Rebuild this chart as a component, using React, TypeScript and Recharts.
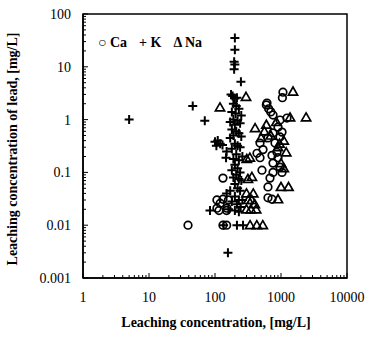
import { ScatterChart, Scatter, XAxis, YAxis, ReferenceArea, Legend } from "recharts";

const xMajorTicks = [1, 10, 100, 1000, 10000];
const xTickLabels = ["1", "10", "100", "1000", "10000"];
const yMajorTicks = [0.001, 0.01, 0.1, 1, 10, 100];
const yTickLabels = ["0.001", "0.01", "0.1", "1", "10", "100"];
const minorSteps = [2, 3, 4, 5, 6, 7, 8, 9];

const caPoints = [
  { x: 39, y: 0.01 }, { x: 132, y: 0.01 }, { x: 150, y: 0.01 },
  { x: 115, y: 0.019 }, { x: 150, y: 0.019 }, { x: 107, y: 0.021 },
  { x: 152, y: 0.021 }, { x: 120, y: 0.026 }, { x: 107, y: 0.03 },
  { x: 132, y: 0.031 }, { x: 160, y: 0.03 }, { x: 132, y: 0.078 },
  { x: 635, y: 0.033 }, { x: 730, y: 0.031 }, { x: 635, y: 0.053 },
  { x: 681, y: 0.078 }, { x: 757, y: 0.1 }, { x: 1036, y: 0.1 },
  { x: 515, y: 0.11 }, { x: 966, y: 0.126 }, { x: 757, y: 0.15 },
  { x: 481, y: 0.19 }, { x: 901, y: 0.19 }, { x: 731, y: 0.21 },
  { x: 433, y: 0.23 }, { x: 869, y: 0.24 }, { x: 534, y: 0.27 },
  { x: 481, y: 0.36 }, { x: 811, y: 0.36 }, { x: 635, y: 0.45 },
  { x: 966, y: 0.47 }, { x: 757, y: 0.56 }, { x: 1036, y: 0.58 },
  { x: 901, y: 0.72 }, { x: 966, y: 0.98 }, { x: 1233, y: 1.07 },
  { x: 757, y: 1.22 }, { x: 700, y: 1.4 }, { x: 650, y: 1.6 },
  { x: 600, y: 1.9 }, { x: 613, y: 2.06 }, { x: 1050, y: 2.6 },
  { x: 1070, y: 3.3 },
];

const kPoints = [
  { x: 5, y: 1 }, { x: 46, y: 1.8 }, { x: 70, y: 0.95 },
  { x: 200, y: 35 }, { x: 200, y: 21 }, { x: 195, y: 12.5 },
  { x: 200, y: 11 }, { x: 195, y: 9 }, { x: 247, y: 5.2 },
  { x: 175, y: 3 }, { x: 185, y: 2.8 }, { x: 200, y: 2.5 },
  { x: 215, y: 2.6 }, { x: 190, y: 2.0 }, { x: 210, y: 1.8 },
  { x: 230, y: 1.6 }, { x: 180, y: 1.4 }, { x: 205, y: 1.3 },
  { x: 250, y: 1.2 }, { x: 190, y: 1.0 }, { x: 220, y: 0.95 },
  { x: 170, y: 0.9 }, { x: 200, y: 0.8 }, { x: 240, y: 0.85 },
  { x: 180, y: 0.65 }, { x: 210, y: 0.6 }, { x: 230, y: 0.55 },
  { x: 190, y: 0.5 }, { x: 250, y: 0.48 }, { x: 170, y: 0.45 },
  { x: 100, y: 0.38 }, { x: 110, y: 0.4 }, { x: 120, y: 0.35 },
  { x: 105, y: 0.32 }, { x: 130, y: 0.33 }, { x: 200, y: 0.35 },
  { x: 220, y: 0.32 }, { x: 240, y: 0.3 }, { x: 150, y: 0.25 },
  { x: 180, y: 0.28 }, { x: 210, y: 0.22 }, { x: 147, y: 0.19 },
  { x: 190, y: 0.18 }, { x: 230, y: 0.17 }, { x: 260, y: 0.2 },
  { x: 200, y: 0.14 }, { x: 220, y: 0.12 }, { x: 180, y: 0.11 },
  { x: 240, y: 0.1 }, { x: 210, y: 0.09 }, { x: 190, y: 0.08 },
  { x: 230, y: 0.075 }, { x: 250, y: 0.07 }, { x: 200, y: 0.06 },
  { x: 220, y: 0.05 }, { x: 170, y: 0.045 }, { x: 240, y: 0.045 },
  { x: 150, y: 0.04 }, { x: 200, y: 0.035 }, { x: 230, y: 0.03 },
  { x: 260, y: 0.03 }, { x: 180, y: 0.028 }, { x: 215, y: 0.025 },
  { x: 245, y: 0.022 }, { x: 84, y: 0.019 }, { x: 160, y: 0.02 },
  { x: 200, y: 0.019 }, { x: 230, y: 0.018 }, { x: 135, y: 0.01 },
  { x: 215, y: 0.01 }, { x: 266, y: 0.01 }, { x: 157, y: 0.003 },
];

const naPoints = [
  { x: 295, y: 2.7 }, { x: 119, y: 1.7 }, { x: 1520, y: 3.4 },
  { x: 2400, y: 1.1 }, { x: 1370, y: 1.1 }, { x: 405, y: 0.69 },
  { x: 600, y: 0.8 }, { x: 850, y: 0.9 }, { x: 560, y: 0.6 },
  { x: 700, y: 0.5 }, { x: 500, y: 0.45 }, { x: 1100, y: 0.4 },
  { x: 950, y: 0.35 }, { x: 900, y: 0.3 }, { x: 1200, y: 0.24 },
  { x: 337, y: 0.19 }, { x: 303, y: 0.18 }, { x: 1000, y: 0.15 },
  { x: 1100, y: 0.12 }, { x: 362, y: 0.082 }, { x: 315, y: 0.075 },
  { x: 1000, y: 0.053 }, { x: 1300, y: 0.053 }, { x: 300, y: 0.04 },
  { x: 380, y: 0.04 }, { x: 320, y: 0.03 }, { x: 360, y: 0.03 },
  { x: 900, y: 0.031 }, { x: 400, y: 0.025 }, { x: 300, y: 0.02 },
  { x: 350, y: 0.02 }, { x: 420, y: 0.02 }, { x: 340, y: 0.01 },
  { x: 430, y: 0.01 }, { x: 530, y: 0.01 },
];

const fontFamily = '"Liberation Serif", "Times New Roman", serif';

const minorOf = (majors: number[]) =>
  majors.slice(0, -1).flatMap((d) => minorSteps.map((m) => +(d * m).toPrecision(3)));
const xTicks = [...xMajorTicks, ...minorOf(xMajorTicks)];
const yTicks = [...yMajorTicks, ...minorOf(yMajorTicks)];

const labelFor = (v: number, majors: number[], labels: string[]) => {
  const i = majors.findIndex((m) => Math.abs(Math.log10(m) - Math.log10(v)) < 1e-6);
  return i >= 0 ? labels[i] : null;
};

const TICK_MARGIN = 12;

const XTick = (props: any) => {
  const { x, y, payload } = props;
  const axisY = y - TICK_MARGIN;
  const label = labelFor(payload.value, xMajorTicks, xTickLabels);
  return (
    <g>
      <line x1={x} x2={x} y1={axisY} y2={axisY - (label ? 5 : 3)} stroke="#000" strokeWidth={1} />
      {label && (
        <text x={x} y={y + 2} textAnchor="middle" dy="0.71em" fontSize={14} fontFamily={fontFamily} fill="#000">
          {label}
        </text>
      )}
    </g>
  );
};

const YTick = (props: any) => {
  const { x, y, payload } = props;
  const axisX = x + TICK_MARGIN;
  const label = labelFor(payload.value, yMajorTicks, yTickLabels);
  return (
    <g>
      <line x1={axisX} x2={axisX + (label ? 5 : 3)} y1={y} y2={y} stroke="#000" strokeWidth={1} />
      {label && (
        <text x={x} y={y} textAnchor="end" dy="0.35em" fontSize={14} fontFamily={fontFamily} fill="#000">
          {label}
        </text>
      )}
    </g>
  );
};

const Circle = (p: any) => (
  <circle cx={p.cx} cy={p.cy} r={3.8} fill="none" stroke="#000" strokeWidth={1.7} />
);
const Plus = (p: any) => (
  <path
    d={`M${p.cx - 4.5},${p.cy}H${p.cx + 4.5}M${p.cx},${p.cy - 4.5}V${p.cy + 4.5}`}
    stroke="#000"
    strokeWidth={2}
    fill="none"
  />
);
const Triangle = (p: any) => (
  <path
    d={`M${p.cx},${p.cy - 4.5}L${p.cx + 4.6},${p.cy + 3.5}L${p.cx - 4.6},${p.cy + 3.5}Z`}
    stroke="#000"
    strokeWidth={1.7}
    fill="none"
  />
);

const legendSymbols: Record<string, string> = { Ca: "○", K: "+", Na: "Δ" };

const LegendContent = (props: any) => (
  <div style={{ display: "flex", gap: 12, fontFamily, fontSize: 14, fontWeight: "bold", color: "#000" }}>
    {(props.payload || []).map((e: any) => (
      <span key={e.value}>
        {legendSymbols[e.value]} {e.value}
      </span>
    ))}
  </div>
);

export default function App() {
  return (
    <div style={{ position: "fixed", left: 0, top: 0, width: 368, height: 344, background: "#fff" }}>
      <ScatterChart width={368} height={344} margin={{ top: 14, right: 21, bottom: 36, left: 13 }}>
        <XAxis
          type="number"
          dataKey="x"
          scale="log"
          domain={[1, 10000]}
          ticks={xTicks}
          interval={0}
          allowDataOverflow
          height={30}
          tickSize={0}
          tickMargin={TICK_MARGIN}
          tickLine={false}
          tick={<XTick />}
          axisLine={{ stroke: "#000", strokeWidth: 1.5 }}
        />
        <YAxis
          type="number"
          dataKey="y"
          scale="log"
          domain={[0.001, 100]}
          ticks={yTicks}
          interval={0}
          allowDataOverflow
          width={70}
          tickSize={0}
          tickMargin={TICK_MARGIN}
          tickLine={false}
          tick={<YTick />}
          axisLine={{ stroke: "#000", strokeWidth: 1.5 }}
        />
        <ReferenceArea
          x1={1}
          x2={10000}
          y1={0.001}
          y2={100}
          fill="none"
          stroke="#000"
          strokeWidth={1.5}
          ifOverflow="visible"
        />
        <Legend
          layout="horizontal"
          verticalAlign="middle"
          align="center"
          content={<LegendContent />}
          wrapperStyle={{ top: 35, left: 98, width: 200, height: 20 }}
        />
        <Scatter name="Ca" data={caPoints} shape={<Circle />} isAnimationActive={false} />
        <Scatter name="K" data={kPoints} shape={<Plus />} isAnimationActive={false} />
        <Scatter name="Na" data={naPoints} shape={<Triangle />} isAnimationActive={false} />
        <text x={216} y={322} textAnchor="middle" dy="0.35em" fontSize={14} fontWeight="bold" fontFamily={fontFamily}>
          Leaching concentration, [mg/L]
        </text>
        <text
          x={12}
          y={149}
          transform="rotate(-90 12 149)"
          textAnchor="middle"
          dy="0.35em"
          fontSize={14}
          fontWeight="bold"
          fontFamily={fontFamily}
        >
          Leaching concentration of lead, [mg/L]
        </text>
      </ScatterChart>
    </div>
  );
}
